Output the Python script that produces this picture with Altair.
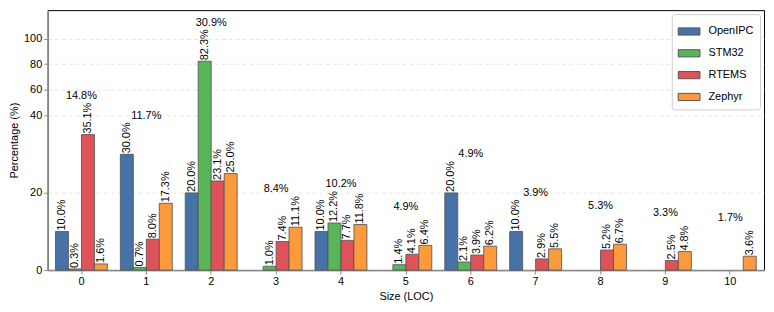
import altair as alt
import pandas as pd

categories = [0, 1, 2, 3, 4, 5, 6, 7, 8, 9, 10]
series = ["OpenIPC", "STM32", "RTEMS", "Zephyr"]
openipc = [10.0, 30.0, 20.0, 0.0, 10.0, 0.0, 20.0, 10.0, 0.0, 0.0, 0.0]
stm32 = [0.3, 0.7, 82.3, 1.0, 12.2, 1.4, 2.1, 0.0, 0.0, 0.0, 0.0]
rtems = [35.1, 8.0, 23.1, 7.4, 7.7, 4.1, 3.9, 2.9, 5.2, 2.5, 0.0]
zephyr = [1.6, 17.3, 25.0, 11.1, 11.8, 6.4, 6.2, 5.5, 6.7, 4.8, 3.6]
totals = [14.8, 11.7, 30.9, 8.4, 10.2, 4.9, 4.9, 3.9, 5.3, 3.3, 1.7]
colors = ["#4672a8", "#58b558", "#e0525a", "#fd9b3c"]
y_ticks = [0, 20, 40, 60, 80, 100]

rows = []
for name, vals in zip(series, [openipc, stm32, rtems, zephyr]):
    for c, v in zip(categories, vals):
        if v > 0:
            rows.append({"size": c, "system": name, "value": v, "label": f"{v:.1f}%"})
df = pd.DataFrame(rows)

grp = pd.DataFrame({
    "size": categories,
    "top": [max(a, b, c, d) for a, b, c, d in zip(openipc, stm32, rtems, zephyr)],
    "label": [f"{t:.1f}%" for t in totals],
})

W = 722
H = 262
top_dom = 122.0
t_top = 40 + (top_dom - 40) / 3.0
y40 = H * (1 - 40 / t_top)
unit_px = H / t_top

font = "Liberation Sans"

xscale = alt.Scale(type="band", paddingInner=0.2, paddingOuter=0.12)
yscale = alt.Scale(domain=[0, 40, top_dom], range=[H, y40, 0], nice=False)

base = alt.Chart(df).encode(
    x=alt.X("size:O", scale=xscale, sort=categories,
            axis=alt.Axis(title="Size (LOC)", labelAngle=0, grid=False)),
    xOffset=alt.XOffset("system:N", sort=series, scale=alt.Scale(domain=series, paddingInner=0, paddingOuter=0)),
    y=alt.Y("value:Q", scale=yscale,
            axis=alt.Axis(title="Percentage (%)", values=y_ticks, grid=True,
                          gridDash=[4, 3], gridColor="#dddddd", gridWidth=0.8)),
)

bars = base.mark_bar(stroke="#555555", strokeWidth=1, strokeOpacity=0.85).encode(
    color=alt.Color("system:N", sort=series,
                    scale=alt.Scale(domain=series, range=colors),
                    legend=alt.Legend(title=None, orient="top-right", offset=4,
                                      symbolType="M-1,-0.33H1V0.33H-1Z", symbolSize=480,
                                      symbolStrokeColor="#555555", symbolStrokeWidth=1,
                                      labelFontSize=11, labelFont=font, rowPadding=4,
                                      fillColor="white", strokeColor="#cccccc",
                                      cornerRadius=3, padding=6, labelOffset=8)),
)

bar_text = base.mark_text(angle=270, align="left", baseline="middle", dx=1,
                          fontSize=11, font=font, color="black").encode(
    text="label:N"
)

group_text = alt.Chart(grp).mark_text(baseline="middle", align="center", dy=-10 * unit_px,
                                      fontSize=11, font=font, color="black").encode(
    x=alt.X("size:O", scale=xscale, sort=categories),
    y=alt.Y("top:Q", scale=yscale),
    text="label:N",
)

chart = alt.layer(bars, bar_text, group_text).properties(
    width=W, height=H, padding={"left": 0, "top": 1, "right": 2, "bottom": 2}
).configure_view(stroke="black", strokeWidth=1).configure_axis(
    labelFont=font, titleFont=font, labelFontSize=11, titleFontSize=11,
    titleFontWeight="normal", labelColor="black", titleColor="black",
    domainColor="#888888", domainWidth=1.5, tickColor="#888888", tickSize=4,
    tickWidth=1,
).configure_axisY(titlePadding=4).configure_axisX(titlePadding=4)

chart.save("out.html", embed_options={"renderer": "svg", "actions": False})
